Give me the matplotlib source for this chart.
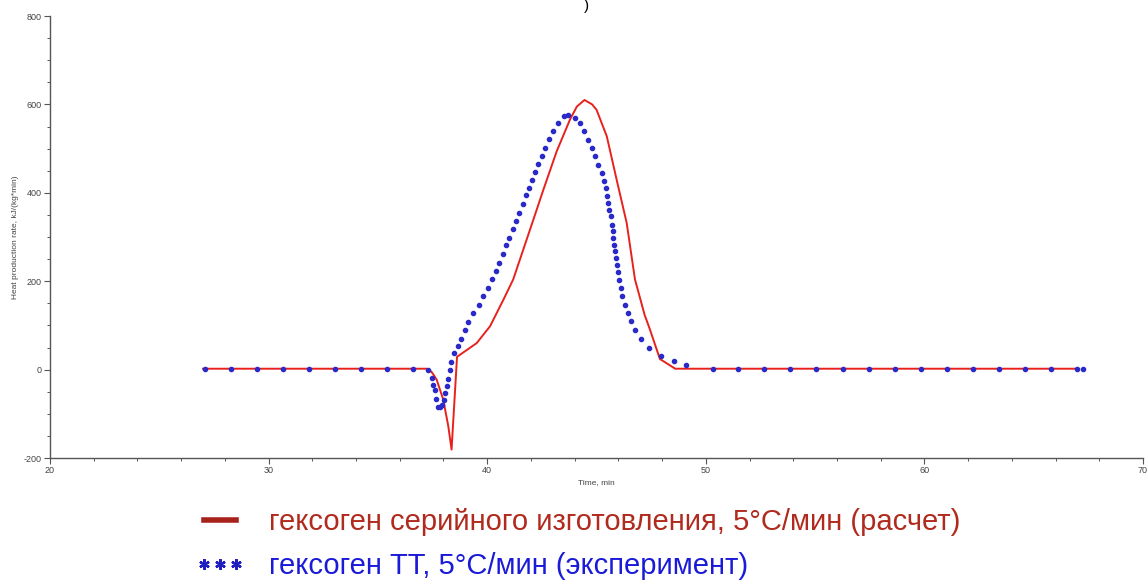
import numpy as np
import matplotlib.pyplot as plt
from matplotlib.lines import Line2D
from matplotlib.ticker import MultipleLocator

# calculated curve (red line)
calc_time = [27.0, 37.23, 37.3, 37.45, 37.55, 37.69, 37.99, 38.22, 38.37, 38.62,
             39.0, 39.52, 40.13, 40.74, 41.19, 42.11, 42.57, 43.18, 43.79, 44.1,
             44.45, 44.8, 45.0, 45.47, 45.92, 46.38, 46.76, 47.2, 47.45, 47.9,
             48.6, 66.95]
calc_heat = [2, 2, 0, -5, -12, -23, -68, -128, -181, 29,
             42, 60, 98, 158, 204, 339, 407, 494, 566, 595,
             610, 600, 588, 528, 430, 332, 204, 124, 90, 24,
             2, 2]

# experimental points (blue dots)
exp_time = [27.09, 28.28, 29.47, 30.67, 31.85, 33.05, 34.24, 35.42, 36.62,
            37.28, 37.46, 37.53, 37.61, 37.66, 37.73, 37.84, 37.93, 38.04, 38.07,
            38.15, 38.21, 38.30, 38.34, 38.50, 38.68, 38.80, 38.97, 39.13, 39.37,
            39.63, 39.82, 40.02, 40.20, 40.39, 40.55, 40.71, 40.86, 41.01, 41.17,
            41.32, 41.47, 41.62, 41.77, 41.93, 42.03, 42.19, 42.34, 42.49, 42.64,
            42.84, 43.02, 43.25, 43.53, 43.71, 44.02, 44.25, 44.43, 44.63, 44.78,
            44.93, 45.08, 45.24, 45.34, 45.43, 45.49, 45.54, 45.58, 45.65, 45.69,
            45.74, 45.77, 45.80, 45.85, 45.89, 45.93, 45.98, 46.04, 46.11, 46.18,
            46.30, 46.43, 46.58, 46.76, 47.02, 47.40, 47.94, 48.55, 49.09,
            50.31, 51.49, 52.68, 53.87, 55.06, 56.27, 57.47, 58.64, 59.83, 61.02,
            62.21, 63.42, 64.61, 65.80, 66.97, 67.24]
exp_heat = [2, 2, 2, 2, 2, 2, 2, 2, 2,
            -2, -20, -34, -47, -66, -84, -84, -81, -68, -54,
            -36, -21, 0, 17, 38, 54, 70, 89, 107, 127,
            146, 166, 184, 204, 224, 241, 261, 281, 298, 317,
            336, 354, 375, 394, 411, 428, 446, 466, 484, 502,
            522, 539, 558, 573, 577, 569, 558, 539, 519, 502,
            483, 464, 445, 426, 411, 392, 377, 362, 347, 328,
            313, 298, 283, 268, 253, 237, 220, 202, 184, 166,
            147, 128, 109, 89, 69, 50, 30, 19, 11,
            2, 2, 2, 2, 2, 2, 2, 2, 2, 2,
            2, 2, 2, 2, 2, 2]

labels = ['гексоген серийного изготовления, 5°C/мин (расчет)',
          'гексоген ТТ, 5°C/мин (эксперимент)']

plt.rcParams['font.family'] = ['Liberation Sans', 'DejaVu Sans']
plt.rcParams['axes.unicode_minus'] = False

fig = plt.figure(figsize=(11.47, 5.8), dpi=100)
ax = fig.add_axes([50 / 1147, 1 - 458 / 580, 1093 / 1147, 442 / 580])

ax.plot(calc_time, calc_heat, color='#e8211d', lw=1.4, zorder=2)
ax.plot(exp_time, exp_heat, ls='none', marker='o', ms=3.0, color='#2a2ac8',
        mec='#2a2ac8', zorder=3)

ax.set_xlim(20, 70)
ax.set_ylim(-200, 800)
ax.xaxis.set_major_locator(MultipleLocator(10))
ax.xaxis.set_minor_locator(MultipleLocator(2))
ax.yaxis.set_major_locator(MultipleLocator(200))
ax.yaxis.set_minor_locator(MultipleLocator(50))
for s in ['top', 'right']:
    ax.spines[s].set_visible(False)
for s in ['left', 'bottom']:
    ax.spines[s].set_color('#555555')
    ax.spines[s].set_linewidth(1.0)
ax.tick_params(which='major', length=4, width=0.8, color='#555555',
               labelsize=6.5, labelcolor='#444444', pad=2)
ax.tick_params(which='minor', length=2.5, width=0.7, color='#555555')
ax.set_xlabel('Time, min', fontsize=6, color='#444444', labelpad=3)
ax.set_ylabel('Heat production rate, kJ/(kg*min)', fontsize=6, color='#444444')
ax.yaxis.set_label_coords(-0.028, 0.5)

# caption remnant at the very top
fig.text(586 / 1147, 1 - 6 / 580, ')', fontsize=11, ha='center', va='center')

handles = [Line2D([], [], color='#a8221c', lw=4),
           Line2D([], [], ls='none', marker=(6, 2, 0), ms=7.5, mew=1.7,
                  color='#2020c0')]
leg = fig.legend(handles, labels, loc='upper left',
                 bbox_to_anchor=(195 / 1147, 1 - 508 / 580), frameon=False,
                 fontsize=21, handlelength=1.7, handletextpad=0.85,
                 labelspacing=0.55, numpoints=3, borderpad=0,
                 borderaxespad=0)
leg.get_texts()[0].set_color('#b02a1e')
leg.get_texts()[1].set_color('#1a1ad8')

fig.savefig('out.png', dpi=100)
